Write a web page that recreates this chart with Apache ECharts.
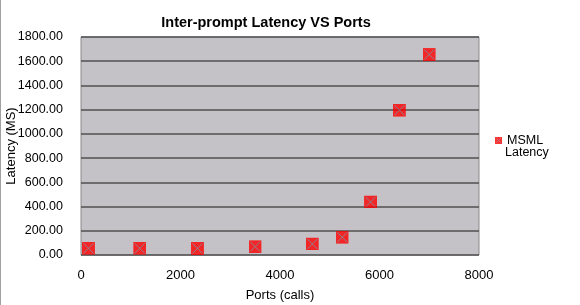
<!DOCTYPE html>
<html>
<head>
<meta charset="utf-8">
<script src="https://cdn.jsdelivr.net/npm/echarts@6/dist/echarts.min.js"></script>
<style>
html,body{margin:0;padding:0;background:#fff;}
#c{width:580px;height:305px;}
</style>
</head>
<body>
<div id="c"></div>
<script>
var ports = [150, 1180, 2340, 3500, 4650, 5250, 5820, 6400, 7000];
var latency = [55, 55, 54, 69, 91, 146, 438, 1195, 1655];
var yTicks = [0, 200, 400, 600, 800, 1000, 1200, 1400, 1600, 1800];
var xTicks = [0, 2000, 4000, 6000, 8000];
var seriesName = 'MSML Latency';

var svg = "<svg xmlns='http://www.w3.org/2000/svg' width='26' height='26' viewBox='0 0 13 13'>" +
  "<rect x='0' y='0' width='13' height='13' fill='#ff0000'/>" +
  "<path d='M1.5 1.5L11.5 11.5M11.5 1.5L1.5 11.5' stroke='#7a7a8a' stroke-width='0.9' fill='none'/></svg>";
var icon = 'image://data:image/svg+xml;charset=utf-8,' + encodeURIComponent(svg);

var data = ports.map(function (p, i) { return [p, latency[i]]; });
var font = 'Liberation Sans, Arial, sans-serif';
var chart = echarts.init(document.getElementById('c'), null, {renderer: 'canvas'});
chart.setOption({
  animation: false,
  backgroundColor: '#fff',
  textStyle: {fontFamily: font},
  title: {
    text: 'Inter-prompt Latency VS Ports',
    left: 261, top: 10, textAlign: 'center',
    textStyle: {fontFamily: font, fontSize: 14.5, fontWeight: 'bold', color: '#000'}
  },
  legend: {
    left: 490, top: 129,
    itemWidth: 7, itemHeight: 7, itemGap: 4,
    data: [{name: seriesName, icon: icon}],
    formatter: function (n) { return n.split(' ')[0]; },
    textStyle: {fontFamily: font, fontSize: 12.5, color: '#000'}
  },
  grid: {
    left: 81, right: 101, top: 37, bottom: 50,
    containLabel: false, outerBoundsMode: 'none',
    show: true, backgroundColor: '#c4c2c6', borderColor: '#8a8a8a', borderWidth: 1
  },
  xAxis: {
    type: 'value', min: 0, max: 8000, interval: 2000,
    name: 'Ports (calls)', nameLocation: 'middle', nameGap: 34, nameMoveOverlap: false,
    nameTextStyle: {fontFamily: font, fontSize: 13, color: '#000'},
    axisLine: {show: false}, axisTick: {show: false}, splitLine: {show: false},
    axisLabel: {fontFamily: font, fontSize: 13, color: '#000', margin: 14,
      formatter: function (v) { return String(v); }}
  },
  yAxis: {
    type: 'value', min: 0, max: 1800, interval: 200,
    name: 'Latency (MS)', nameLocation: 'middle', nameGap: 63, nameMoveOverlap: false,
    nameTextStyle: {fontFamily: font, fontSize: 13, color: '#000'},
    axisLine: {show: false}, axisTick: {show: false},
    splitLine: {show: true, lineStyle: {color: '#505050', width: 1.5}},
    axisLabel: {fontFamily: font, fontSize: 12.5, color: '#000', margin: 18,
      formatter: function (v) { return v.toFixed(2); }}
  },
  graphic: [
    {type: 'line', shape: {x1: 0.5, y1: 0, x2: 0.5, y2: 305}, style: {stroke: '#a0a0a0', lineWidth: 1}},
    {type: 'text', left: 505, top: 146, style: {text: seriesName.split(' ')[1], font: '12.5px Liberation Sans, Arial, sans-serif', fill: '#000'}}
  ],
  series: [{
    name: seriesName, type: 'scatter', data: data,
    symbol: icon, symbolSize: 13, z: 5
  }]
});
</script>
</body>
</html>
